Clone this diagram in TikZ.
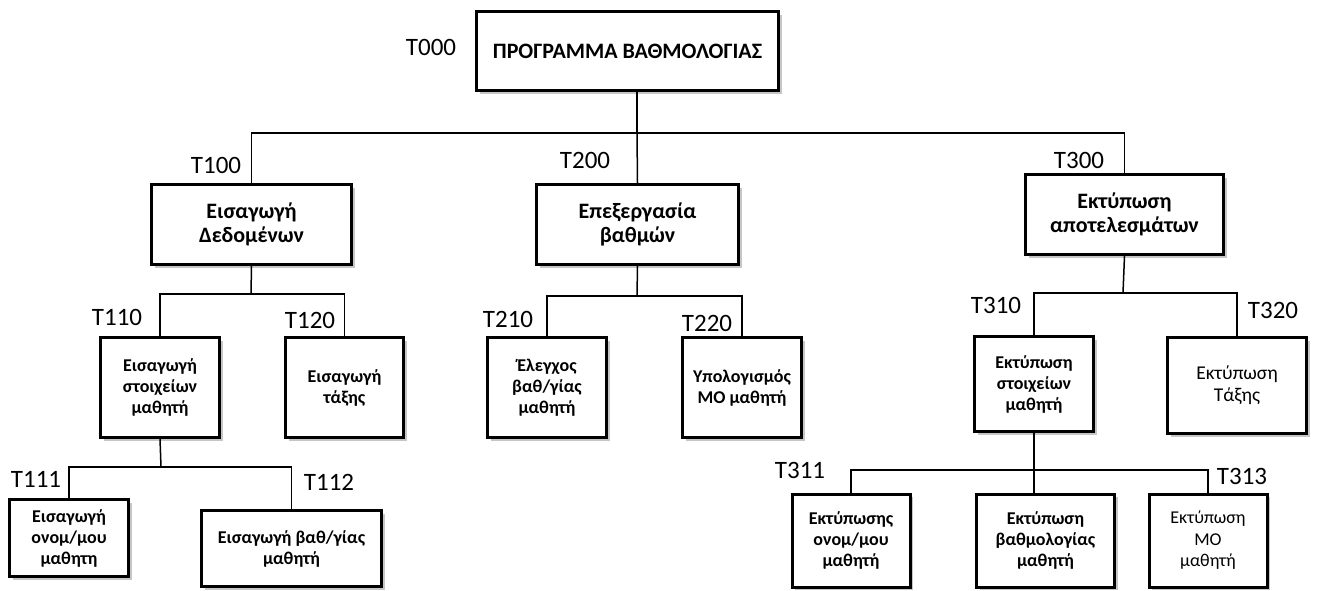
\documentclass[tikz,border=0pt]{standalone}
\usepackage{fontspec}
\setmainfont{Carlito}
\usetikzlibrary{shadows}
\begin{document}
\begin{tikzpicture}[x=1pt,y=-1pt,
  box/.style={draw, line width=3pt, fill=white, align=center, inner sep=1pt,
    drop shadow={shadow xshift=3pt, shadow yshift=-3pt, fill=black!50, opacity=0.45}},
  bigb/.style={font=\bfseries\fontsize{22}{24}\selectfont},
  smallb/.style={font=\bfseries\fontsize{18}{21}\selectfont},
  smallr/.style={font=\fontsize{18}{21.5}\selectfont},
  midr/.style={font=\fontsize{19.5}{22}\selectfont},
  lbl/.style={font=\fontsize{25}{30}\selectfont, anchor=base, inner sep=0pt},
  conn/.style={line width=1.5pt}]
\useasboundingbox (0,0) rectangle (1318,590);

% boxes
\node[box, bigb, minimum width=302, minimum height=79] (t000) at (627.5,51) {ΠΡΟΓΡΑΜΜΑ ΒΑΘΜΟΛΟΓΙΑΣ};
\node[box, bigb, minimum width=200, minimum height=80] (t100) at (251.5,224.5) {Εισαγωγή\\Δεδομένων};
\node[box, bigb, minimum width=202, minimum height=80] (t200) at (637.5,224.5) {Επεξεργασία\\βαθμών};
\node[box, bigb, minimum width=198, minimum height=80] (t300) at (1124.5,214.5) {Εκτύπωση\\αποτελεσμάτων};
\node[box, smallb, minimum width=119, minimum height=100] (t110) at (160,387.5) {Εισαγωγή\\στοιχείων\\μαθητή};
\node[box, smallb, minimum width=118, minimum height=100] (t120) at (344.5,387.5) {Εισαγωγή\\τάξης};
\node[box, smallb, minimum width=119, minimum height=100] (t210) at (547,387.5) {Έλεγχος\\βαθ/γίας\\μαθητή};
\node[box, smallb, minimum width=119, minimum height=100] (t220) at (742,387.5) {Υπολογισμός\\ΜΟ μαθητή};
\node[box, smallb, minimum width=119, minimum height=95] (t310) at (1034,384) {Εκτύπωση\\στοιχείων\\μαθητή};
\node[box, midr, minimum width=139, minimum height=96] (t320) at (1237,385.5) {Εκτύπωση\\Τάξης};
\node[box, smallb, minimum width=119, minimum height=77] (t111) at (69,538) {Εισαγωγή\\ονομ/μου\\μαθητη};
\node[box, smallb, minimum width=180, minimum height=76] (t112) at (291.5,548.5) {Εισαγωγή βαθ/γίας\\μαθητή};
\node[box, smallb, minimum width=118, minimum height=93] (t311) at (851,540.5) {Εκτύπωσης\\ονομ/μου\\μαθητή};
\node[box, smallb, minimum width=138, minimum height=93] (t312) at (1045.5,540.5) {Εκτύπωση\\βαθμολογίας\\μαθητή};
\node[box, smallr, minimum width=118, minimum height=93] (t313) at (1208,540.5) {Εκτύπωση\\ΜΟ\\μαθητή};

% code labels
\node[lbl] (l000) at (431,55) {T000};
\node[lbl] (l100) at (216,173) {T100};
\node[lbl] (l200) at (585,168) {T200};
\node[lbl] (l300) at (1079,168) {T300};
\node[lbl] (l110) at (117,325) {T110};
\node[lbl] (l120) at (310,328) {T120};
\node[lbl] (l210) at (508,327) {T210};
\node[lbl] (l220) at (707,331) {T220};
\node[lbl] (l310) at (996,313) {T310};
\node[lbl] (l320) at (1273,318) {T320};
\node[lbl] (l111) at (36,487) {T111};
\node[lbl] (l112) at (329,490) {T112};
\node[lbl] (l311) at (800,478) {T311};
\node[lbl] (l313) at (1242,484) {T313};

% junction points of the tree
\coordinate (j0) at (637,133);
\coordinate (j1) at (251,294);
\coordinate (j2) at (637,296);
\coordinate (j3) at (1123,293);
\coordinate (j11) at (161,467);
\coordinate (j31) at (1034,470);

% connectors
\draw[conn] (j0 |- t000.south) -- (j0);
\draw[conn] (j0) -| (t100.north);
\draw[conn] (j0) -- (t200.north);
\draw[conn] (j0) -| (t300.north);

\draw[conn] (t100.south) -- (j1);
\draw[conn] (j1) -| (t110.north);
\draw[conn] (j1) -| (t120.north);

\draw[conn] (t200.south) -- (j2);
\draw[conn] (j2) -| (t210.north);
\draw[conn] (j2) -| (t220.north);

\draw[conn] (t300.south) -- (j3);
\draw[conn] (j3) -| (t310.north);
\draw[conn] (j3) -| (t320.north);

\draw[conn] (t110.south) -- (j11);
\draw[conn] (j11) -| (t111.north);
\draw[conn] (j11) -| (t112.north);

\draw[conn] (t310.south) -- (j31);
\draw[conn] (j31) -| (t311.north);
\draw[conn] (j31) -- (j31 |- t312.north);
\draw[conn] (j31) -| (t313.north);
\end{tikzpicture}
\end{document}
